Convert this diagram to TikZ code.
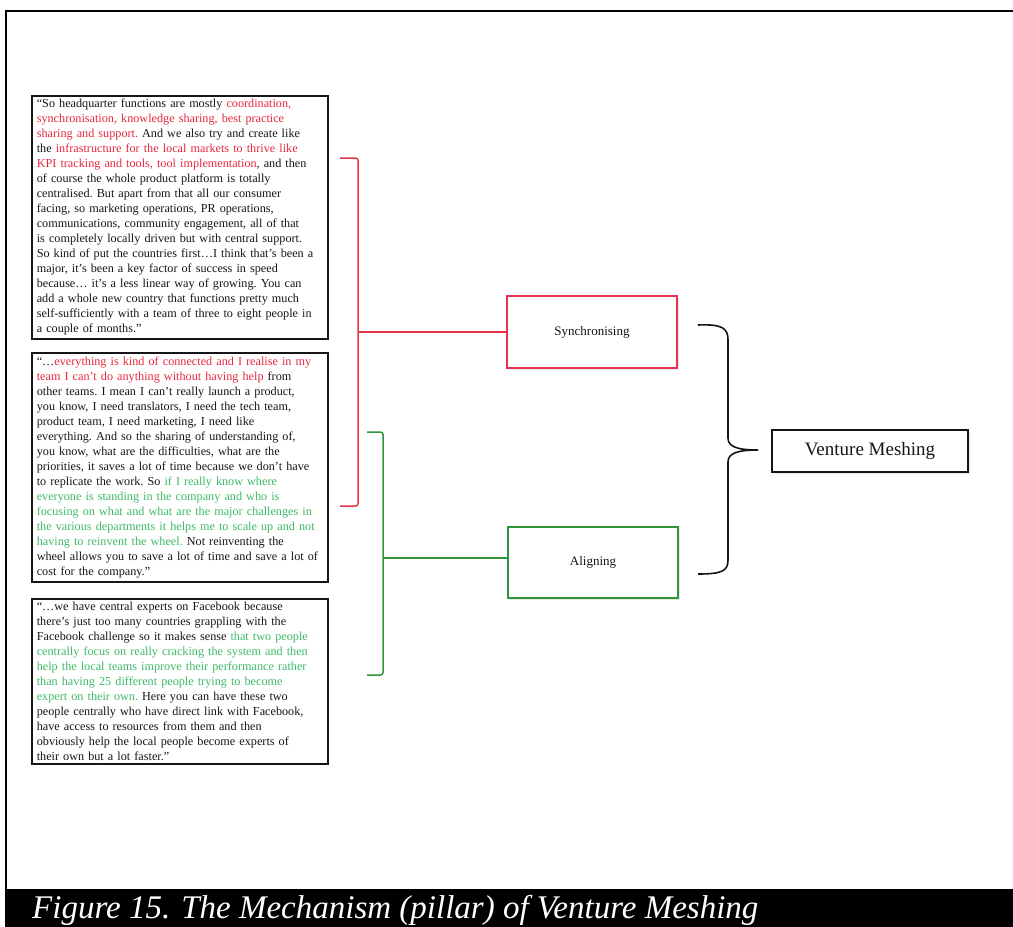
\documentclass[tikz,border=0pt]{standalone}
\usepackage{fontspec}
\setmainfont{Liberation Serif}
\usetikzlibrary{shadows}
\definecolor{qred}{RGB}{232,40,62}
\definecolor{qgreen}{RGB}{62,186,104}
\definecolor{lred}{RGB}{230,52,72}
\definecolor{lgreen}{RGB}{48,150,58}
\definecolor{ink}{RGB}{22,22,22}
\tikzset{
  softshadow/.style={drop shadow={opacity=0.18, shadow xshift=1.5pt, shadow yshift=-1.5pt}},
  quotebox/.style={draw=ink, line width=1.6pt, fill=white, anchor=north west, align=left,
    text width=286pt, inner xsep=5pt, inner ysep=1pt, text=ink,
    font=\fontsize{12.2}{15}\selectfont\frenchspacing, softshadow},
  themebox/.style={line width=1.5pt, fill=white, minimum width=170pt, minimum height=71pt,
    text=ink, font=\fontsize{13}{15}\selectfont, softshadow},
  redline/.style={draw=lred, line width=1.5pt},
  greenline/.style={draw=lgreen, line width=1.5pt},
  braceline/.style={draw=ink, line width=1.6pt},
}
\begin{document}
\begin{tikzpicture}[x=1pt,y=-1pt]
\useasboundingbox (0,0) rectangle (1013,927);
\fill[white] (0,0) rectangle (1013,927);
% frame and caption band
\draw[line width=2pt] (1013,11) -- (6,11) -- (6,889);
\fill[black] (5,889) rectangle (1013,927);
\node[anchor=base west, inner sep=0pt, text=white, font=\fontsize{33}{36}\selectfont\itshape] (caption) at (32,918) {Figure 15. The Mechanism (pillar) of Venture Meshing};

% quote boxes
\node[quotebox, minimum height=243pt] (q1) at (31,95) {“So headquarter functions are mostly \color{qred}coordination,\\
synchronisation, knowledge sharing, best practice\\
sharing and support. \color{ink}And we also try and create like\\
the \color{qred}infrastructure for the local markets to thrive like\\
KPI tracking and tools, tool implementation\color{ink}, and then\\
of course the whole product platform is totally\\
centralised. But apart from that all our consumer\\
facing, so marketing operations, PR operations,\\
communications, community engagement, all of that\\
is completely locally driven but with central support.\\
So kind of put the countries first…I think that’s been a\\
major, it’s been a key factor of success in speed\\
because… it’s a less linear way of growing. You can\\
add a whole new country that functions pretty much\\
self-sufficiently with a team of three to eight people in\\
a couple of months.”};

\node[quotebox, minimum height=229pt] (q2) at (31,352) {“…\color{qred}everything is kind of connected and I realise in my\\
team I can’t do anything without having help \color{ink}from\\
other teams. I mean I can’t really launch a product,\\
you know, I need translators, I need the tech team,\\
product team, I need marketing, I need like\\
everything. And so the sharing of understanding of,\\
you know, what are the difficulties, what are the\\
priorities, it saves a lot of time because we don’t have\\
to replicate the work. So \color{qgreen}if I really know where\\
everyone is standing in the company and who is\\
focusing on what and what are the major challenges in\\
the various departments it helps me to scale up and not\\
having to reinvent the wheel. \color{ink}Not reinventing the\\
wheel allows you to save a lot of time and save a lot of\\
cost for the company.”};

\node[quotebox, minimum height=165pt] (q3) at (31,598) {“…we have central experts on Facebook because\\
there’s just too many countries grappling with the\\
Facebook challenge so it makes sense \color{qgreen}that two people\\
centrally focus on really cracking the system and then\\
help the local teams improve their performance rather\\
than having 25 different people trying to become\\
expert on their own. \color{ink}Here you can have these two\\
people centrally who have direct link with Facebook,\\
have access to resources from them and then\\
obviously help the local people become experts of\\
their own but a lot faster.”};

% theme boxes
\node[themebox, draw=lred, minimum height=72pt] (sync) at (592,332) {Synchronising};
\node[themebox, draw=lgreen] (align) at (593,562.5) {Aligning};
\node[draw=ink, line width=1.6pt, fill=white, minimum width=196pt, minimum height=42pt,
  text=ink, font=\fontsize{19}{22}\selectfont, softshadow] (vm) at (870,451) {Venture Meshing};

% red bracket
\coordinate (rtop) at (340,158);
\coordinate (rbot) at (340,506);
\coordinate (rmid) at (358,332);
\draw[redline, rounded corners=2.5pt] (rtop) -- (358,158) -- (358,506) -- (rbot);
\draw[redline] (rmid) -- (sync.west);

% green bracket
\coordinate (gtop) at (367,432);
\coordinate (gbot) at (367,675);
\coordinate (gmid) at (383,558);
\draw[greenline, rounded corners=2.5pt] (gtop) -- (383,432) -- (383,675) -- (gbot);
\draw[greenline] (gmid) -- (gmid -| align.west);

% curly brace
\coordinate (btop) at (698,325);
\coordinate (bbot) at (698,574);
\coordinate (btip) at (758,450);
\draw[braceline] (btop) .. controls (722,324) and (728,328) .. (728,340) -- (728,438)
  .. controls (728,447) and (738,450) .. (btip);
\draw[braceline] (btip) .. controls (738,450) and (728,453) .. (728,462) -- (728,560)
  .. controls (728,571) and (722,574) .. (bbot);
\end{tikzpicture}
\end{document}
